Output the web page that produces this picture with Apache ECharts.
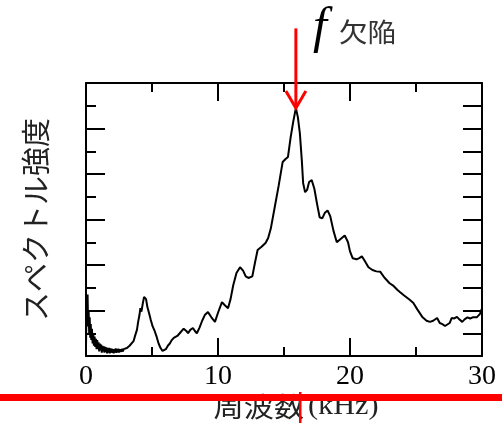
<!DOCTYPE html>
<html><head><meta charset="utf-8">
<script src="https://cdn.jsdelivr.net/npm/echarts@6/dist/echarts.min.js"></script>
<style>html,body{margin:0;padding:0;background:#fff}#c{width:502px;height:423px}</style>
</head><body><div id="c"></div>
<script>
var freq = [0.0,0.04,0.08,0.12,0.16,0.2,0.24,0.28,0.32,0.36,0.4,0.45,0.5,0.55,0.6,0.65,0.7,0.75,0.8,0.85,0.9,0.95,1.0,1.05,1.1,1.15,1.2,1.25,1.3,1.35,1.4,1.45,1.5,1.55,1.6,1.65,1.7,1.75,1.8,1.85,1.9,1.95,2.0,2.05,2.1,2.15,2.2,2.25,2.3,2.35,2.4,2.45,2.5,2.55,2.6,2.65,2.7,2.75,2.8,2.85,2.9,2.95,3.0,3.1,3.2,3.3,3.45,3.6,3.75,3.86,3.95,4.05,4.12,4.2,4.3,4.4,4.47,4.55,4.65,4.77,4.9,5.05,5.2,5.35,5.5,5.65,5.8,5.9,6.05,6.2,6.35,6.5,6.65,6.8,6.95,7.1,7.25,7.4,7.5,7.6,7.73,7.9,8.1,8.25,8.4,8.6,8.8,9.0,9.24,9.5,9.77,10.0,10.3,10.5,10.76,10.95,11.15,11.4,11.67,11.9,12.1,12.3,12.6,12.8,13.0,13.3,13.6,13.8,14.0,14.3,14.6,14.9,15.1,15.3,15.5,15.7,15.9,16.05,16.2,16.35,16.45,16.6,16.75,16.9,17.1,17.3,17.5,17.7,17.9,18.1,18.3,18.5,18.75,19.0,19.15,19.4,19.6,19.85,20.0,20.2,20.5,20.7,20.9,21.1,21.4,21.7,22.0,22.3,22.6,23.0,23.3,23.6,23.8,24.1,24.5,24.8,25.1,25.5,25.8,26.06,26.3,26.6,26.8,27.0,27.2,27.35,27.55,27.7,27.9,28.1,28.3,28.5,28.7,28.9,29.1,29.3,29.6,29.85,30.0];
var intensity = [0.4,2.2,1.5,2.7,1.3,2.0,1.0,1.7,0.8,1.4,0.7,1.2,0.55,1.0,0.45,0.85,0.4,0.75,0.3,0.7,0.3,0.6,0.2,0.55,0.25,0.5,0.15,0.45,0.2,0.42,0.15,0.4,0.18,0.38,0.12,0.35,0.15,0.36,0.12,0.33,0.15,0.32,0.14,0.3,0.12,0.3,0.15,0.33,0.14,0.3,0.16,0.32,0.15,0.3,0.17,0.3,0.18,0.32,0.2,0.3,0.22,0.33,0.25,0.35,0.32,0.45,0.5,0.65,0.95,1.15,1.5,1.8,2.1,1.95,2.3,2.6,2.68,2.5,2.15,1.9,1.6,1.3,1.1,0.85,0.55,0.35,0.22,0.2,0.3,0.45,0.55,0.7,0.8,0.78,0.9,1.0,1.0,1.2,1.28,1.1,1.0,1.15,1.23,1.1,1.0,1.25,1.55,1.8,1.93,1.7,1.5,1.9,2.37,2.24,2.1,2.5,3.1,3.65,3.9,3.75,3.5,3.43,3.5,4.1,4.66,4.8,4.97,5.19,5.6,6.55,7.5,8.53,8.65,8.75,9.6,10.3,10.9,10.5,9.8,8.6,7.6,7.2,7.3,7.65,7.73,7.35,6.7,6.1,6.05,6.3,6.4,6.15,5.5,5.0,4.95,5.2,5.3,5.0,4.6,4.3,4.25,4.3,4.38,4.2,3.9,3.78,3.72,3.7,3.45,3.2,3.08,2.9,2.8,2.66,2.48,2.33,2.05,1.7,1.55,1.5,1.55,1.67,1.45,1.4,1.32,1.3,1.45,1.67,1.65,1.72,1.6,1.5,1.62,1.7,1.65,1.7,1.7,1.85,2.1];
var xTickLabels = ['0','10','20','30'];
var peakFreq = 15.9, peakVal = 10.9, arrowTopVal = 14.4;

var chart = echarts.init(document.getElementById('c'), null, {renderer:'canvas'});
var data = freq.map(function(f,i){return [f,intensity[i]];});
var lineStyle = {color:'#000', width:2};
var serif = "'Liberation Serif','Times New Roman',serif";
var cjk = "'Noto Sans CJK JP','Noto Sans CJK SC',sans-serif";
chart.setOption({
  animation:false,
  backgroundColor:'#fff',
  grid:{left:86,right:20,top:83,bottom:67},
  xAxis:[{
    type:'value',position:'bottom',min:0,max:30,interval:10,
    axisLine:{onZero:false,lineStyle:lineStyle},
    axisTick:{inside:true,length:18,lineStyle:lineStyle},
    minorTick:{show:true,splitNumber:2,length:9,lineStyle:lineStyle},
    splitLine:{show:false},
    axisLabel:{margin:7,fontFamily:serif,fontSize:28,color:'#000',
      formatter:function(v){var i=xTickLabels.indexOf(String(v));return i>=0?xTickLabels[i]:'';}}
  },{
    type:'value',position:'top',min:0,max:30,interval:10,
    axisLine:{onZero:false,lineStyle:lineStyle},
    axisTick:{inside:true,length:18,lineStyle:lineStyle},
    minorTick:{show:true,splitNumber:2,length:9,lineStyle:lineStyle},
    splitLine:{show:false},axisLabel:{show:false}
  }],
  yAxis:[{
    type:'value',position:'left',min:0,max:12,interval:2,
    axisLine:{show:true,onZero:false,lineStyle:lineStyle},
    axisTick:{show:true,inside:true,length:19,lineStyle:lineStyle},
    minorTick:{show:true,splitNumber:2,length:10,lineStyle:lineStyle},
    splitLine:{show:false},axisLabel:{show:false},
    name:'スペクトル強度',nameLocation:'middle',nameGap:36,nameRotate:90,
    nameTextStyle:{fontFamily:cjk,fontSize:29,color:'#222'}
  },{
    type:'value',position:'right',min:0,max:12,interval:1,
    axisLine:{show:true,onZero:false,lineStyle:lineStyle},
    axisTick:{show:true,inside:true,length:19,lineStyle:lineStyle},
    splitLine:{show:false},axisLabel:{show:false}
  }],
  series:[{
    type:'line',xAxisIndex:0,yAxisIndex:0,data:data,showSymbol:false,symbol:'none',
    lineStyle:{color:'#000',width:2},z:3
  }]
});

var p = chart.convertToPixel({xAxisIndex:0,yAxisIndex:0},[peakFreq,peakVal]);
var t = chart.convertToPixel({xAxisIndex:0,yAxisIndex:0},[peakFreq,arrowTopVal]);
chart.setOption({graphic:[
  {type:'text',x:296,y:407,scaleX:1.12,z:5,style:{
    text:'{a|周波数} {b|(kHz)}',align:'center',verticalAlign:'middle',
    rich:{a:{fontFamily:cjk,fontSize:27,fill:'#222'},b:{fontFamily:serif,fontSize:27,fill:'#222'}}}},
  {type:'rect',shape:{x:0,y:394,width:502,height:7},style:{fill:'#ff0000'},z:8,silent:true},
  {type:'polyline',shape:{points:[[t[0],t[1]],[p[0],p[1]]]},style:{stroke:'#ff0000',lineWidth:3,fill:null},z:10},
  {type:'polyline',shape:{points:[[p[0]-10,p[1]-17],[p[0],p[1]],[p[0]+10,p[1]-17]]},style:{stroke:'#ff0000',lineWidth:3,fill:null},z:10},
  {type:'text',x:313,y:29,style:{text:'f',font:'italic 50px '+serif,fill:'#000',verticalAlign:'middle'},z:10},
  {type:'text',x:339,y:32,scaleX:1.1,style:{text:'欠陥',font:'26px '+cjk,fill:'#333',verticalAlign:'middle'},z:10},
  {type:'rect',shape:{x:299,y:392,width:2.5,height:31},style:{fill:'#ff0000'},z:20,silent:true}
]});
</script></body></html>
